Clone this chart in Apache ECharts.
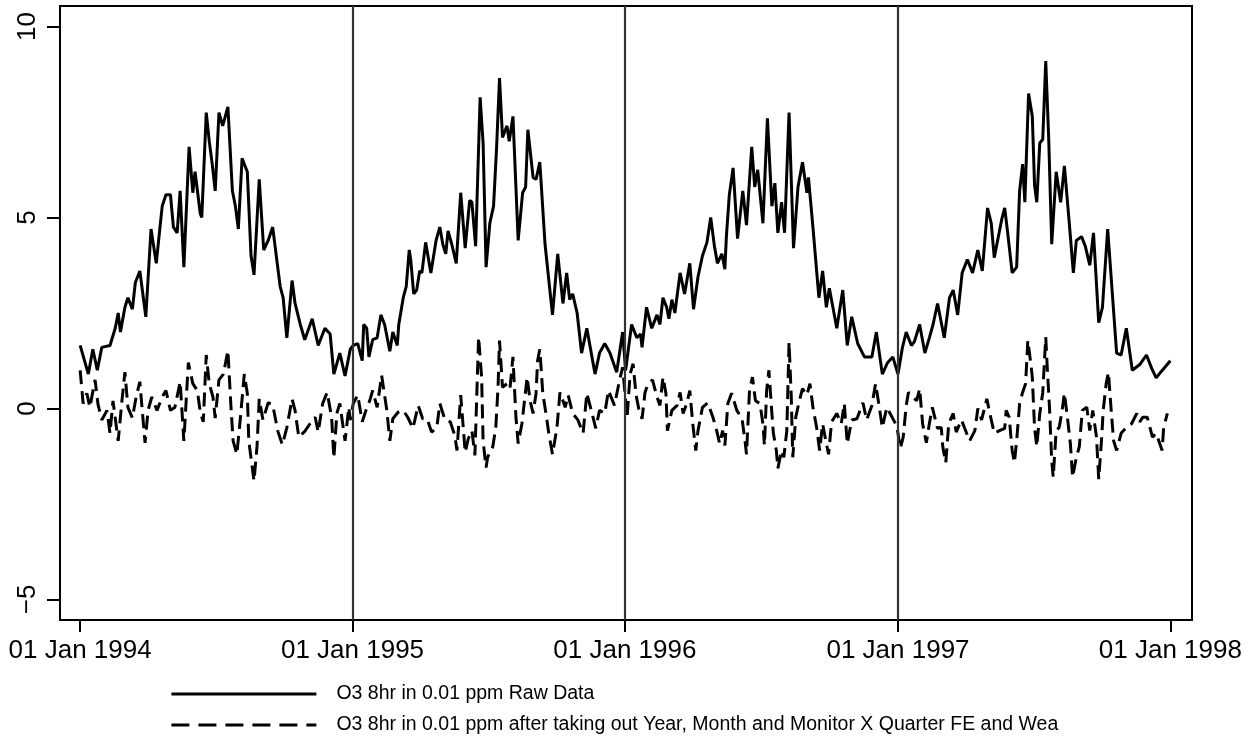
<!DOCTYPE html>
<html>
<head>
<meta charset="utf-8">
<title>O3 8hr</title>
<script src="https://cdn.jsdelivr.net/npm/echarts@6/dist/echarts.min.js"></script>
<style>
  html, body { margin: 0; padding: 0; background: #ffffff; }
  #chart { width: 1259px; height: 744px; }
</style>
</head>
<body>
<div id="chart"></div>
<script>
// days counted from 01 Jan 1994
var xTickDays = [0, 365, 730, 1096, 1461];
var xTickLabels = ['01 Jan 1994', '01 Jan 1995', '01 Jan 1996', '01 Jan 1997', '01 Jan 1998'];
var yTicks = [-5, 0, 5, 10];
var yTickLabels = ['\u22125', '0', '5', '10'];
var yearLineDays = [365, 730, 1096];

var rawName = 'O3 8hr in 0.01 ppm Raw Data';
var adjName = 'O3 8hr in 0.01 ppm after taking out Year, Month and Monitor X Quarter FE and Wea';

var rawDays = [0,11,17,23,29,40,47,51,54,60,64,70,74,80,88,95,102,107,110,115,121,125,130,134,139,146,151,154,161,163,
  169,173,177,181,186,191,198,204,208,212,217,224,229,233,240,246,252,258,268,272,277,284,288,295,301,311,319,328,335,340,
  348,355,362,366,372,378,380,384,387,392,398,403,408,415,419,425,427,433,437,441,443,447,451,455,458,463,470,477,482,486,
  490,493,498,504,510,516,522,525,530,536,540,544,549,554,558,562,566,572,575,580,587,593,597,600,607,611,616,623,633,640,
  647,652,656,660,666,672,679,690,696,703,710,719,727,731,739,746,751,753,759,766,773,777,781,786,789,793,797,804,810,817,
  822,828,834,840,845,850,854,860,864,866,870,875,881,888,893,900,904,908,915,921,927,931,935,940,944,950,956,962,968,974,
  976,982,990,995,1000,1004,1014,1022,1028,1034,1042,1051,1061,1067,1075,1082,1089,1096,1102,1107,1114,1118,1125,1132,1138,1143,
  1149,1158,1165,1170,1176,1182,1189,1196,1203,1209,1216,1221,1225,1235,1239,1243,1249,1255,1259,1263,1266,1268,1271,1276,
  1279,1282,1286,1290,1294,1298,1302,1308,1314,1319,1326,1331,1335,1342,1347,1353,1358,1365,1370,1377,1389,1395,1402,1410,
  1420,1429,1436,1442,1448,1461];
var rawVals = [1.65,0.9,1.55,1.0,1.6,1.65,2.1,2.5,2.0,2.65,2.9,2.6,3.3,3.6,2.4,4.7,3.8,4.75,5.3,5.6,5.6,4.75,4.6,5.7,3.7,6.85,5.65,6.2,5.1,5.0,
  7.75,7.0,6.4,5.7,7.75,7.4,7.9,5.7,5.3,4.7,6.55,6.2,4.0,3.5,6.0,4.15,4.4,4.75,3.2,2.9,1.85,3.35,2.75,2.2,1.8,2.35,1.65,2.1,1.95,0.9,
  1.45,0.85,1.55,1.65,1.7,1.25,2.2,2.1,1.35,1.8,1.85,2.45,2.2,1.5,2.0,1.65,2.2,2.9,3.2,4.15,3.9,3.0,3.1,3.6,3.55,4.35,3.55,4.4,4.75,4.3,
  4.05,4.65,4.3,3.8,5.65,4.2,5.45,5.4,4.25,8.15,6.95,3.7,4.85,5.3,6.8,8.65,7.1,7.4,7.0,7.65,4.4,5.65,5.8,7.3,6.05,6.0,6.45,4.3,2.45,4.05,
  2.75,3.55,2.85,3.0,2.5,1.45,2.1,0.9,1.45,1.7,1.45,0.95,2.0,1.0,2.2,1.85,1.95,1.6,2.65,2.1,2.45,2.2,2.9,2.65,2.35,2.85,2.5,3.55,3.0,3.8,
  2.6,3.45,4.0,4.35,5.0,4.25,3.8,4.05,3.65,4.5,5.6,6.3,4.45,5.7,4.8,6.85,5.8,6.25,4.85,7.6,5.3,5.9,4.6,5.4,4.6,7.75,4.2,5.8,6.45,5.65,
  6.05,4.75,2.9,3.6,2.65,3.15,2.1,3.1,1.65,2.4,1.7,1.35,1.35,2.0,0.9,1.2,1.35,0.9,1.6,2.0,1.65,1.75,2.2,1.45,1.85,2.2,
  2.75,1.85,2.9,3.1,2.45,3.55,3.9,3.55,4.15,3.6,5.25,4.85,3.95,4.95,5.25,4.6,3.55,3.7,5.7,6.4,5.4,6.55,8.25,7.65,
  5.85,5.4,6.95,7.05,9.1,7.05,4.3,6.2,5.4,6.35,4.75,3.55,4.4,4.5,4.25,3.75,4.6,2.25,2.65,4.7,1.45,1.4,2.1,1.0,
  1.15,1.4,1.05,0.8,0.95,1.25];

var adjDays = [0,4,9,13,20,24,29,36,40,44,51,56,60,64,70,75,80,84,87,91,96,103,110,115,121,127,134,139,145,151,
  157,161,165,169,173,178,181,186,192,198,202,205,210,214,220,224,226,230,233,237,240,245,252,258,265,271,277,284,288,293,
  301,308,315,319,325,331,337,340,344,348,355,360,362,366,372,378,383,388,392,398,404,411,415,419,426,433,439,446,453,459,
  465,471,478,482,489,496,502,505,510,516,520,525,529,534,538,540,544,546,553,557,560,562,566,572,576,580,584,587,592,599,
  603,607,611,613,616,620,625,628,633,639,643,650,654,660,667,674,679,686,691,696,703,708,716,723,727,733,737,741,745,749,
  753,757,761,767,773,777,781,785,787,793,800,804,808,813,817,821,825,828,834,841,848,853,857,861,864,868,873,880,887,891,
  893,897,901,905,911,915,917,920,923,927,929,933,935,940,943,947,950,953,955,959,963,968,974,978,982,987,991,995,1000,1003,
  1007,1014,1020,1024,1028,1034,1041,1049,1054,1061,1066,1071,1075,1081,1090,1094,1096,1099,1103,1107,1110,1116,1121,1125,1129,1134,
  1138,1142,1149,1154,1156,1160,1164,1170,1174,1181,1185,1192,1199,1203,1208,1215,1221,1225,1232,1239,1241,1245,1249,1252,
  1255,1259,1263,1267,1270,1274,1276,1279,1282,1286,1290,1294,1296,1299,1302,1304,1308,1312,1316,1319,1323,1327,1330,1335,
  1339,1343,1349,1353,1357,1362,1365,1369,1371,1375,1378,1382,1385,1389,1395,1402,1409,1416,1420,1424,1430,1437,1442,1450,
  1452,1457];
var adjVals = [1.0,0.13,0.4,0.03,0.75,0.1,-0.3,-0.05,-0.65,0.2,-0.85,0.2,0.95,0.03,-0.25,0.3,0.7,-0.23,-0.9,-0.05,0.3,-0.05,0.3,0.47,-0.05,0.03,0.7,-0.85,1.2,0.65,
  0.47,-0.1,-0.35,1.4,0.65,0.3,-0.25,0.75,0.9,1.52,0.08,-0.85,-1.2,-0.4,0.9,0.4,-0.85,-1.45,-1.9,-1.0,0.25,-0.3,0.15,0.1,-0.6,-0.95,-0.5,0.25,-0.05,-0.75,
  -0.6,-0.4,-0.23,-0.62,0.13,0.42,-0.23,-1.3,-0.13,0.13,-0.85,0.03,-0.3,0.13,0.35,-0.35,-0.05,0.2,0.47,0.03,0.87,-0.05,-0.85,-0.27,-0.1,-0.05,-0.23,-0.52,0.08,-0.27,
  -0.27,-0.62,-0.5,0.13,-0.3,-0.35,-0.7,-1.1,0.35,-1.15,-0.8,-0.58,-1.23,1.87,0.82,-0.85,-1.55,-1.28,-1.0,-0.5,0.55,1.78,0.55,0.65,0.52,1.35,-0.23,-0.92,-0.4,0.82,
  0.2,-0.13,0.4,1.25,1.55,0.4,-0.23,-0.65,-1.2,-0.5,0.42,0.03,0.35,-0.13,-0.3,-0.65,0.4,-0.13,-0.52,-0.05,-0.13,0.47,0.08,0.75,1.08,-0.23,0.9,1.17,0.35,-0.05,
  -0.27,0.42,0.65,0.75,0.3,0.08,0.82,0.4,-0.58,-0.05,0.08,0.42,-0.13,0.13,0.47,-0.4,-1.1,-0.58,0.03,0.15,-0.23,-0.58,-0.92,-0.58,-0.97,0.13,0.4,-0.05,-0.27,-0.85,
  -1.2,0.47,0.82,0.2,0.13,-0.4,-0.97,0.47,1.0,-0.13,-0.65,-1.1,-1.57,-1.1,-1.28,-0.58,1.73,0.3,-1.28,-0.23,0.13,0.52,0.35,0.65,0.03,-0.5,-1.1,-0.4,-0.92,-1.2,
  -0.35,-0.13,-0.4,0.13,-0.92,-0.3,-0.27,0.15,-0.3,0.08,0.65,0.03,-0.5,0.03,-0.3,-0.45,-0.65,-1.05,-0.75,0.08,0.42,0.3,0.2,0.52,-0.4,-0.9,
  -0.4,0.03,-0.52,-0.5,-1.0,-1.42,-0.4,-0.13,-0.62,-0.3,-0.5,-0.85,-0.58,0.0,-0.3,0.25,-0.3,-0.65,-0.58,-0.52,-0.05,-0.23,-1.1,-1.42,
  -0.85,0.13,0.42,0.65,1.78,1.17,0.82,-0.5,-1.0,-0.13,0.42,1.87,1.08,0.03,-1.37,-1.8,-0.58,-0.5,-0.05,0.4,-0.23,-0.92,-1.8,-1.28,
  -1.0,-0.05,0.03,-0.58,-0.05,-0.75,-1.85,-0.75,-0.05,0.65,0.95,-0.13,-0.85,-1.1,-0.65,-0.5,-0.4,-0.13,-0.35,-0.23,-0.23,-0.75,-0.65,-1.1,
  -0.5,-0.13];

function pairs(days, vals) {
  return days.map(function (d, i) { return [d, vals[i]]; });
}

var myChart = echarts.init(document.getElementById('chart'));
myChart.setOption({
  animation: false,
  backgroundColor: '#ffffff',
  textStyle: { fontFamily: 'Liberation Sans, Arial, sans-serif' },
  grid: {
    left: 60, right: 67, top: 6, bottom: 124,
    show: true,
    borderColor: '#000',
    borderWidth: 2
  },
  legend: {
    orient: 'vertical',
    left: 170,
    top: 684,
    padding: 0,
    itemGap: 11,
    itemWidth: 145,
    itemHeight: 20,
    itemStyle: { opacity: 0 },
    lineStyle: { width: 2.8 },
    textStyle: { fontSize: 19.5, color: '#000', padding: [0, 0, 0, 15] },
    data: [
      { name: rawName },
      { name: adjName, lineStyle: { type: [18, 9] } }
    ]
  },
  xAxis: {
    type: 'value',
    min: -27,
    max: 1490,
    splitLine: { show: false },
    axisLine: { onZero: false, lineStyle: { color: '#000', width: 2 } },
    axisTick: { show: true, length: 12, customValues: xTickDays, lineStyle: { color: '#000', width: 2 } },
    axisLabel: {
      customValues: xTickDays,
      fontSize: 26,
      color: '#000',
      margin: 18,
      formatter: function (v) { return xTickLabels[xTickDays.indexOf(v)]; }
    }
  },
  yAxis: {
    type: 'value',
    min: -5.54,
    max: 10.54,
    splitLine: { show: false },
    axisLine: { onZero: false, lineStyle: { color: '#000', width: 2 } },
    axisTick: { show: true, length: 13, customValues: yTicks, lineStyle: { color: '#000', width: 2 } },
    axisLabel: {
      customValues: yTicks,
      rotate: 90,
      fontSize: 26,
      color: '#000',
      margin: 19,
      formatter: function (v) { return yTickLabels[yTicks.indexOf(v)]; }
    }
  },
  series: [
    {
      name: rawName,
      type: 'line',
      symbol: 'none',
      data: pairs(rawDays, rawVals),
      lineStyle: { color: '#000', width: 3 },
      itemStyle: { color: '#000' },
      markLine: {
        silent: true,
        symbol: 'none',
        label: { show: false },
        lineStyle: { color: '#333333', width: 2.2, type: 'solid' },
        data: yearLineDays.map(function (d) { return { xAxis: d }; })
      }
    },
    {
      name: adjName,
      type: 'line',
      symbol: 'none',
      data: pairs(adjDays, adjVals),
      lineStyle: { color: '#000', width: 3, type: [14, 7] },
      itemStyle: { color: '#000' }
    }
  ]
});
</script>
</body>
</html>
